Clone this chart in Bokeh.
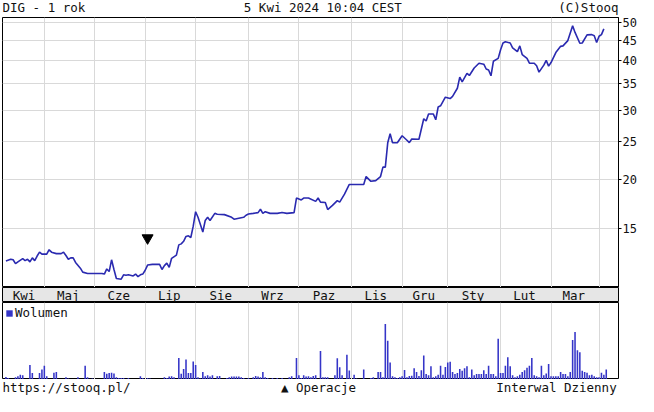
import pandas as pd
from bokeh.plotting import figure
from bokeh.layouts import column
from bokeh.models import (Range1d, FixedTicker, Grid, PrintfTickFormatter,
                          Legend, LegendItem)
from bokeh.core.properties import value
from bokeh.embed import file_html
from bokeh.resources import INLINE

FONT = "DejaVu Sans Mono"

# ---------------- data ----------------
holidays = ["2023-04-07", "2023-04-10", "2023-05-01", "2023-05-03", "2023-06-08",
            "2023-08-15", "2023-11-01", "2023-12-25", "2023-12-26", "2024-01-01",
            "2024-03-29", "2024-04-01"]
sessions = [d for d in pd.bdate_range("2023-04-05", "2024-04-05")
            if d.strftime("%Y-%m-%d") not in holidays]

month_labels = ["Kwi", "Maj", "Cze", "Lip", "Sie", "Wrz", "Paz", "Lis", "Gru",
                "Sty", "Lut", "Mar"]
price_ticks = [15, 20, 25, 30, 35, 40, 45, 50]

# trading-session number -> close price
price_day = [0, 2, 3, 4, 5, 7, 8, 9, 10, 11, 12, 13, 14, 15, 17, 18, 19, 21, 23, 24,
             25, 26, 27, 28, 29, 31, 32, 34, 40, 41, 42, 43, 44, 45, 46, 48, 49, 50, 51, 53,
             54, 55, 56, 57, 58, 59, 61, 64, 65, 66, 67, 68, 69, 71, 72, 73, 74, 75, 76, 77,
             78, 79, 80, 82, 83, 84, 85, 87, 88, 91, 94, 95, 97, 99, 100, 101, 103, 105, 106, 107,
             108, 110, 113, 115, 117, 120, 121, 123, 124, 126, 129, 130, 131, 133, 134, 136, 138, 139, 141, 143,
             145, 149, 150, 152, 154, 156, 157, 158, 159, 160, 161, 163, 165, 167, 168, 169, 172, 174, 175, 176,
             178, 179, 180, 181, 183, 185, 186, 188, 189, 190, 192, 193, 195, 197, 199, 200, 201, 202, 203, 205,
             206, 207, 208, 210, 211, 213, 214, 215, 217, 218, 220, 221, 222, 224, 225, 226, 227, 229, 231, 232,
             234, 236, 237, 239, 240, 242, 244, 245, 246, 247, 248, 249]
price_close = [12.42, 12.54, 12.50, 12.22, 12.35, 12.58, 12.44, 12.54, 12.35, 12.64,
               12.44, 12.78, 13.07, 12.92, 12.92, 13.26, 13.07, 12.96, 12.96, 13.07,
               12.82, 12.54, 12.64, 12.64, 12.31, 11.90, 11.63, 11.54, 11.54, 11.50,
               11.85, 11.67, 12.50, 11.81, 11.20, 11.16, 11.45, 11.42, 11.45, 11.37,
               11.50, 11.33, 11.45, 11.50, 11.76, 12.12, 12.17, 12.17, 11.81, 12.08,
               12.26, 11.96, 12.61, 12.85, 13.64, 13.72, 13.93, 14.33, 14.38, 14.24,
               15.22, 16.56, 16.03, 14.71, 15.73, 16.03, 15.73, 16.40, 16.31, 16.28,
               16.03, 15.85, 15.94, 16.03, 16.22, 16.34, 16.40, 16.47, 16.80, 16.40,
               16.56, 16.40, 16.40, 16.49, 16.40, 16.47, 17.94, 17.74, 17.94, 17.94,
               17.59, 17.94, 17.51, 17.47, 16.77, 17.18, 17.67, 17.51, 18.35, 19.42,
               19.42, 19.42, 20.34, 19.78, 19.86, 20.34, 21.49, 21.49, 24.78, 26.12,
               24.78, 24.78, 25.83, 25.15, 24.80, 25.34, 25.30, 28.52, 28.15, 29.33,
               29.33, 28.36, 30.55, 30.76, 32.36, 32.10, 32.50, 34.09, 36.38, 35.40,
               37.20, 36.74, 38.38, 39.47, 39.25, 38.16, 37.95, 36.68, 39.92, 40.60,
               42.71, 44.42, 44.75, 44.42, 43.19, 42.23, 43.68, 41.52, 40.60, 39.47,
               39.47, 38.88, 37.46, 39.03, 40.14, 38.81, 39.62, 42.00, 43.56, 43.68,
               45.05, 49.16, 47.26, 44.35, 44.42, 46.60, 46.65, 46.34, 44.55, 46.21,
               46.65, 48.26]

# daily volume (relative units, one value per session)
volume = [8, 5, 0, 0, 7, 10, 15, 13, 0, 0,
          45, 20, 0, 0, 20, 31, 43, 10, 0, 0,
          21, 23, 0, 0, 0, 7, 3, 0, 0, 0,
          7, 0, 0, 43, 7, 0, 3, 0, 0, 0,
          0, 23, 18, 20, 21, 19, 7, 5, 5, 5,
          0, 5, 0, 0, 0, 0, 10, 5, 0, 5,
          3, 0, 0, 0, 0, 0, 7, 5, 9, 10,
          7, 0, 67, 18, 33, 62, 20, 20, 56, 45,
          7, 3, 23, 10, 13, 9, 13, 0, 10, 11,
          0, 0, 5, 7, 9, 9, 9, 9, 7, 5,
          0, 5, 0, 7, 11, 9, 7, 23, 7, 5,
          0, 5, 0, 5, 0, 5, 0, 0, 7, 10,
          0, 67, 13, 5, 13, 9, 10, 7, 11, 13,
          0, 89, 7, 7, 7, 0, 0, 13, 66, 38,
          13, 0, 77, 28, 0, 15, 3, 0, 0, 31,
          0, 0, 5, 7, 0, 23, 23, 7, 173, 121,
          53, 10, 7, 5, 7, 10, 30, 7, 11, 12,
          35, 23, 11, 29, 75, 17, 13, 41, 7, 10,
          15, 43, 15, 39, 53, 55, 23, 17, 20, 33,
          27, 35, 41, 7, 31, 13, 17, 17, 17, 29,
          17, 43, 17, 17, 10, 127, 20, 20, 43, 69,
          41, 13, 7, 10, 15, 23, 29, 37, 43, 67,
          13, 10, 7, 43, 13, 19, 48, 10, 10, 10,
          10, 23, 17, 17, 10, 23, 123, 148, 91, 85,
          27, 23, 21, 13, 15, 10, 7, 7, 21, 15,
          31]

op_day = [59]
op_price = [14.2]

# ---------------- derived ----------------
n = len(sessions)
days = list(range(n))
vol = volume[:n]
month_start = [i for i in range(1, n) if sessions[i].month != sessions[i - 1].month]
bounds = [0] + month_start + [n]
label_pos = [(bounds[k] + bounds[k + 1] - 1) / 2 for k in range(len(month_labels))]

# ---------------- layout ----------------
W = 616
LB = 2
RB = 20
GRID = "#d9d9d9"
TXT = "#111111"
FS = "12.5px"

xr = Range1d(-1.42, 255.1)


def blank(h, xrange, yrange, **kw):
    f = figure(frame_width=W, frame_height=h, x_range=xrange, y_range=yrange,
               x_axis_location=None, y_axis_location=None, toolbar_location=None,
               output_backend="svg", min_border_left=LB, min_border_right=RB,
               min_border_top=0, min_border_bottom=0, border_fill_color="white", **kw)
    f.grid.visible = False
    return f


# header
ph = blank(16, Range1d(0, 1), Range1d(0, 1), outline_line_color=None)
ph.text(x=[0], y=[0.55], text=["DIG - 1 rok"], text_font=value(FONT), text_font_size=FS,
        text_align="left", text_baseline="middle", text_color=TXT)
ph.text(x=[0.52], y=[0.55], text=["5 Kwi 2024 10:04 CEST"], text_font=value(FONT),
        text_font_size=FS, text_align="center", text_baseline="middle", text_color=TXT)
ph.text(x=[1], y=[0.55], text=["(C)Stooq"], text_font=value(FONT), text_font_size=FS,
        text_align="right", text_baseline="middle", text_color=TXT)

# main price chart
p = figure(frame_width=W, frame_height=270, x_range=xr, y_range=Range1d(10.63, 51.57),
           y_axis_type="log", x_axis_location=None, y_axis_location="right",
           toolbar_location=None, output_backend="svg", min_border_left=LB,
           min_border_right=0, min_border_top=1, min_border_bottom=0,
           outline_line_color="black", background_fill_color="white",
           border_fill_color="white")
p.grid.visible = False
p.add_layout(Grid(dimension=0, ticker=FixedTicker(ticks=month_start), grid_line_color=GRID))
p.add_layout(Grid(dimension=1, ticker=FixedTicker(ticks=price_ticks), grid_line_color=GRID))
yax = p.yaxis[0]
yax.ticker = FixedTicker(ticks=price_ticks)
yax.formatter = PrintfTickFormatter(format="%d")
yax.major_label_text_font = FONT
yax.major_label_text_font_size = "12px"
yax.major_label_text_color = TXT
yax.major_tick_in = 0
yax.major_tick_out = 3
yax.minor_tick_line_color = None
yax.major_label_standoff = 1
yax.axis_line_color = "black"
p.line(price_day, price_close, line_color="#2a2ab0", line_width=1.6)
p.scatter(op_day, op_price, marker="inverted_triangle", size=11, color="black")

# month band
pb = blank(15, xr, Range1d(0, 1), outline_line_color="black",
           background_fill_color="#e6e6e6")
pb.text(x=label_pos, y=[0.5] * len(label_pos), text=month_labels, text_font=value(FONT),
        text_font_size=FS, text_align="center", text_baseline="middle", text_color=TXT)

# volume
pv = blank(77, xr, Range1d(0, 240), outline_line_color="black",
           background_fill_color="white")
pv.add_layout(Grid(dimension=0, ticker=FixedTicker(ticks=month_start), grid_line_color=GRID))
vr = pv.vbar(x=days, top=vol, width=0.65, fill_color="#3535c8", line_color=None)
leg = Legend(items=[LegendItem(label="Wolumen", renderers=[vr])], location="top_left",
             margin=3, padding=1, spacing=0, label_standoff=2, glyph_width=8,
             glyph_height=8, label_height=12, label_text_font=FONT,
             label_text_font_size=FS, label_text_color=TXT, border_line_color=None,
             background_fill_alpha=0)
pv.add_layout(leg)

# footer
pf = blank(16, Range1d(0, 1), Range1d(0, 1), outline_line_color=None)
pf.text(x=[0], y=[0.5], text=["https://stooq.pl/"], text_font=value(FONT),
        text_font_size=FS, text_align="left", text_baseline="middle", text_color=TXT)
pf.text(x=[0.513], y=[0.5], text=["\u25b2 Operacje"], text_font=value(FONT),
        text_font_size=FS, text_align="center", text_baseline="middle", text_color=TXT)
pf.text(x=[0.997], y=[0.5], text=["Interwal Dzienny"], text_font=value(FONT),
        text_font_size=FS, text_align="right", text_baseline="middle", text_color=TXT)

layout = column(ph, p, pb, pv, pf, spacing=0)
open("out.html", "w").write(file_html(layout, INLINE))
